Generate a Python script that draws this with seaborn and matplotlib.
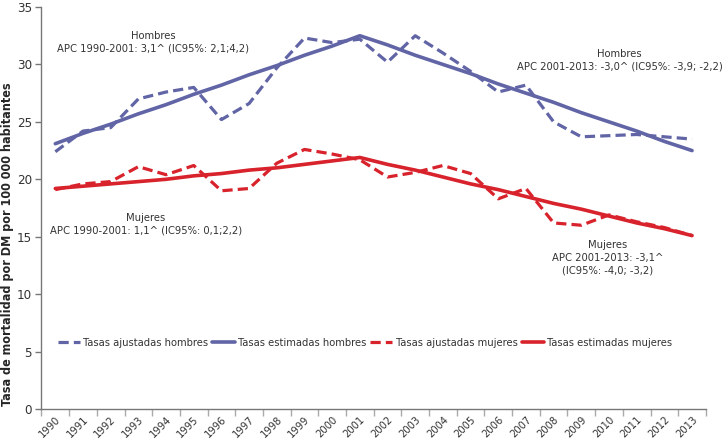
import numpy as np
import pandas as pd
import seaborn as sns
import matplotlib.pyplot as plt

years = list(range(1990, 2014))

# tasas ajustadas (observadas) y estimadas (joinpoint)
hombres_ajustadas = [22.4, 24.2, 24.5, 27.0, 27.6, 28.0, 25.2, 26.6, 29.7, 32.3, 31.9, 32.2,
                     30.2, 32.5, 31.0, 29.4, 27.6, 28.2, 25.0, 23.7, 23.8, 23.9, 23.7, 23.5]
hombres_estimadas = [23.1, 24.0, 24.8, 25.7, 26.5, 27.4, 28.2, 29.1, 29.9, 30.8, 31.6, 32.5,
                     31.7, 30.8, 30.0, 29.2, 28.3, 27.5, 26.7, 25.8, 25.0, 24.2, 23.3, 22.5]
mujeres_ajustadas = [19.1, 19.6, 19.8, 21.1, 20.4, 21.2, 19.0, 19.2, 21.4, 22.6, 22.2, 21.7,
                     20.2, 20.6, 21.2, 20.5, 18.3, 19.2, 16.2, 16.0, 16.9, 16.3, 15.8, 15.1]
mujeres_estimadas = [19.2, 19.4, 19.6, 19.8, 20.0, 20.3, 20.5, 20.8, 21.0, 21.3, 21.6, 21.9,
                     21.3, 20.8, 20.2, 19.6, 19.1, 18.5, 17.9, 17.4, 16.8, 16.2, 15.7, 15.1]

series_labels = ['Tasas ajustadas hombres', 'Tasas estimadas hombres',
                 'Tasas ajustadas mujeres', 'Tasas estimadas mujeres']

azul = '#6165a6'
rojo = '#d8222c'
gris = '#777777'

sns.set_style('white')
plt.rcParams['font.family'] = ['DejaVu Sans']
plt.rcParams['font.stretch'] = 'condensed'
plt.rcParams['text.color'] = '#333333'

fig = plt.figure(figsize=(7.24, 4.44), dpi=100)
ax = fig.add_axes([0.0573, 0.0788, 0.9177, 0.9054])

dash = (0, (3.2, 1.6))
sns.lineplot(x=years, y=hombres_ajustadas, ax=ax, color=azul, lw=2.3, linestyle=dash, label=series_labels[0])
sns.lineplot(x=years, y=hombres_estimadas, ax=ax, color=azul, lw=2.6, label=series_labels[1])
sns.lineplot(x=years, y=mujeres_ajustadas, ax=ax, color=rojo, lw=2.3, linestyle=dash, label=series_labels[2])
sns.lineplot(x=years, y=mujeres_estimadas, ax=ax, color=rojo, lw=2.6, label=series_labels[3])

ax.set_xlim(1989.5, 2013.5)
ax.set_ylim(0, 35)
ax.set_yticks(range(0, 36, 5))
ax.set_xticks(years)
ax.set_xticklabels([str(y) for y in years], rotation=45, ha='right', rotation_mode='anchor')
ax.set_xticks(np.arange(1989.5, 2014, 1), minor=True)
ax.tick_params(axis='x', which='major', length=0, pad=4, labelsize=8, labelcolor='#333333')
ax.tick_params(axis='x', which='minor', length=5, width=1, color='#aaaaaa', direction='out', bottom=True)
ax.tick_params(axis='y', length=4, width=1, color=gris, direction='out', left=True, labelsize=9.5,
               labelcolor='#333333', pad=3)

sns.despine(ax=ax)
for s in ['left', 'bottom']:
    ax.spines[s].set_color(gris)
    ax.spines[s].set_linewidth(1)

ax.set_xlabel('')
ax.set_ylabel('Tasa de mortalidad por DM por 100 000 habitantes', fontsize=9, fontweight='bold')
ax.yaxis.set_label_coords(-0.041, 0.41)

kw = dict(transform=ax.transAxes, ha='center', va='center', fontsize=8, multialignment='center',
          linespacing=1.35)
ax.text(0.168, 0.912, 'Hombres\nAPC 1990-2001: 3,1^ (IC95%: 2,1;4,2)', **kw)
ax.text(0.870, 0.867, 'Hombres\nAPC 2001-2013: -3,0^ (IC95%: -3,9; -2,2)', **kw)
ax.text(0.157, 0.460, 'Mujeres\nAPC 1990-2001: 1,1^ (IC95%: 0,1;2,2)', **kw)
ax.text(0.852, 0.376, 'Mujeres\nAPC 2001-2013: -3,1^\n(IC95%: -4,0; -3,2)', **kw)

ax.legend(loc='center', bbox_to_anchor=(0.487, 0.164), ncol=4, frameon=False, fontsize=8,
          handlelength=2.0, handletextpad=0.3, columnspacing=0.35)

fig.savefig('out.png', dpi=100)
